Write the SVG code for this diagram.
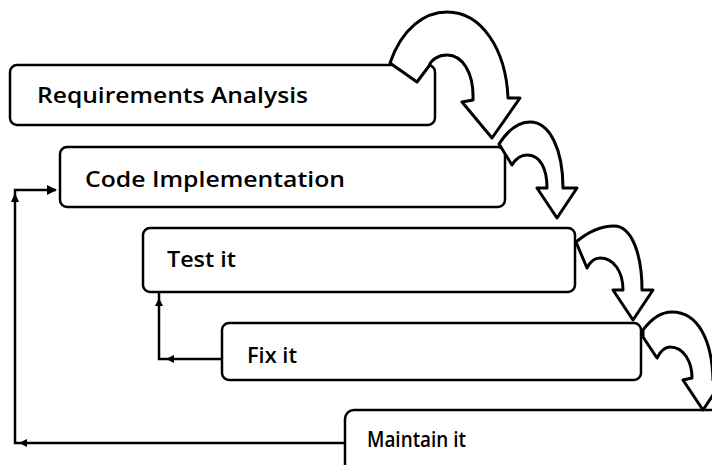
<svg xmlns="http://www.w3.org/2000/svg" width="712" height="465" viewBox="0 0 712 465">
  <style>
    .box { fill: #ffffff; stroke: #000000; stroke-width: 2.5; }
    .label { font-family: "Open Sans", "Liberation Sans", Arial, sans-serif; font-weight: 600; font-size: 21px; fill: #000000; }
    .turn { fill: #ffffff; stroke: #000000; stroke-width: 3; stroke-linejoin: round; }
    .wire { fill: none; stroke: #000000; stroke-width: 2.5; }
    .tick { fill: #000000; }
  </style>
  <defs>
    <marker id="head" viewBox="0 0 10 10" refX="9" refY="5" markerWidth="4" markerHeight="4" orient="auto" markerUnits="strokeWidth">
      <path d="M0,0 L10,5 L0,10 z" fill="#000000"/>
    </marker>
  </defs>
  <rect width="712" height="465" fill="#ffffff"/>

  <!-- process steps -->
  <g id="requirements">
    <rect class="box" x="10" y="65" width="425" height="60" rx="7"/>
    <text class="label" x="37" y="103" textLength="271" lengthAdjust="spacingAndGlyphs">Requirements Analysis</text>
  </g>
  <g id="code">
    <rect class="box" x="60" y="147" width="445" height="60" rx="7"/>
    <text class="label" x="85" y="187" textLength="260" lengthAdjust="spacingAndGlyphs">Code Implementation</text>
  </g>
  <g id="test">
    <rect class="box" x="143" y="228" width="432" height="64" rx="7"/>
    <text class="label" x="167" y="267" textLength="69" lengthAdjust="spacingAndGlyphs">Test it</text>
  </g>
  <g id="fix">
    <rect class="box" x="222" y="323" width="419" height="57" rx="7"/>
    <text class="label" x="247" y="363" textLength="50" lengthAdjust="spacingAndGlyphs">Fix it</text>
  </g>
  <g id="maintain">
    <rect class="box" x="345" y="410" width="420" height="80" rx="9"/>
    <text class="label" x="367" y="447" textLength="99" lengthAdjust="spacingAndGlyphs">Maintain it</text>
  </g>

  <!-- curved step arrows -->
  <g id="flow">
    <path class="turn" d="M390,63 C402,28 425,12 447,12 C482,12 506,50 508,98 L520,98 L492,138 L462,102 L473,100 C474,72 462,55 447,55 C438,55 431,60 429,66 L417,82 Z"/>
    <path class="turn" d="M499,144 C508,130 518,122 530,122 C550,122 563,150 563,188 L577,188 L557,218 L537,188 L547,188 C547,168 540,155 527,155 C520,155 515,160 512,165 Z"/>
    <path class="turn" d="M576,242 C588,232 600,226 614,226 C632,226 642,255 642,290 L653,290 L633,320 L613,290 L623,290 C623,272 614,258 600,258 C594,258 590,262 587,268 Z"/>
    <path class="turn" d="M643,330 C652,318 662,312 672,312 C698,312 712,340 713,380 L723,380 L703,410 L683,380 L692,378 C692,362 684,347 670,347 C664,347 660,352 657,358 L643,337 Z"/>
  </g>

  <!-- feedback connectors -->
  <g id="connectors">
    <path class="wire" d="M345,443 H15 V190 H56" marker-end="url(#head)"/>
    <path class="tick" d="M15,193 L11,202 L19,202 Z"/>
    <path class="tick" d="M19,443 L27,439 L27,447 Z"/>
    <path class="wire" d="M222,359 H159 V293"/>
    <path class="tick" d="M166,359 L174,355 L174,363 Z"/>
    <path class="tick" d="M159,298 L155,306 L163,306 Z"/>
  </g>
</svg>
